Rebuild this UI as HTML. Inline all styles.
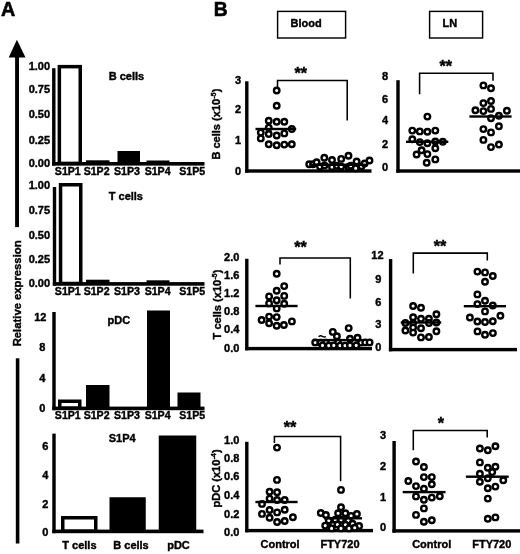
<!DOCTYPE html>
<html><head><meta charset="utf-8"><title>Figure</title>
<style>
html,body{margin:0;padding:0;background:#fff;}
svg{display:block;font-family:"Liberation Sans", sans-serif;font-weight:bold;fill:#000;}
text{stroke:#000;stroke-width:0.4px;}
</style></head><body>
<svg width="520" height="554" viewBox="0 0 520 554">
<defs><filter id="soft" x="0" y="0" width="520" height="554" filterUnits="userSpaceOnUse"><feGaussianBlur stdDeviation="0.4"/></filter></defs>
<rect x="0" y="0" width="520" height="554" fill="#fff"/>
<g filter="url(#soft)">
<text x="0.9" y="15.6" font-size="19.80" text-anchor="start" style="stroke-width:0.6px">A</text>
<polygon points="16.9,39.8 8.7,57.4 25.5,57.4"/>
<rect x="15.1" y="57" width="3.90" height="170.10" fill="#000"/>
<text transform="translate(20.8,346.3) rotate(-90)" font-size="11.27">Relative expression</text>
<rect x="15.8" y="358.3" width="3.60" height="185.20" fill="#000"/>
<rect x="52.1" y="68.2" width="3.40" height="97.40" fill="#000"/>
<rect x="52.1" y="162.0" width="152.40" height="3.60" fill="#000"/>
<text x="50.1" y="69.9" font-size="11.00" text-anchor="end" >1.00</text>
<text x="50.1" y="93.4" font-size="11.00" text-anchor="end" >0.75</text>
<text x="50.1" y="118.10000000000001" font-size="11.00" text-anchor="end" >0.50</text>
<text x="50.1" y="143.6" font-size="11.00" text-anchor="end" >0.25</text>
<text x="50.1" y="167.3" font-size="11.00" text-anchor="end" >0.00</text>
<text x="67.8" y="174.9" font-size="10.60" text-anchor="middle" >S1P1</text>
<text x="96.6" y="174.9" font-size="10.60" text-anchor="middle" >S1P2</text>
<text x="126.9" y="174.9" font-size="10.60" text-anchor="middle" >S1P3</text>
<text x="157.6" y="174.9" font-size="10.60" text-anchor="middle" >S1P4</text>
<text x="192.2" y="174.9" font-size="10.60" text-anchor="middle" >S1P5</text>
<rect x="59.35" y="66.65" width="20.90" height="96.75" fill="#fff" stroke="#000" stroke-width="3.5"/>
<rect x="86" y="160.3" width="23.50" height="3.10" fill="#000"/>
<rect x="117.5" y="151" width="22.50" height="12.40" fill="#000"/>
<rect x="146.5" y="160.5" width="23.00" height="2.90" fill="#000"/>
<text x="108.75" y="80" font-size="11.00" text-anchor="start" >B cells</text>
<rect x="52.8" y="187" width="3.40" height="98.70" fill="#000"/>
<rect x="52.8" y="282.1" width="151.70" height="3.60" fill="#000"/>
<text x="50.1" y="189.4" font-size="11.00" text-anchor="end" >1.00</text>
<text x="50.1" y="213.5" font-size="11.00" text-anchor="end" >0.75</text>
<text x="50.1" y="238.9" font-size="11.00" text-anchor="end" >0.50</text>
<text x="50.1" y="262.7" font-size="11.00" text-anchor="end" >0.25</text>
<text x="50.1" y="286.9" font-size="11.00" text-anchor="end" >0.00</text>
<text x="67.8" y="294.6" font-size="10.60" text-anchor="middle" >S1P1</text>
<text x="96.6" y="294.6" font-size="10.60" text-anchor="middle" >S1P2</text>
<text x="126.9" y="294.6" font-size="10.60" text-anchor="middle" >S1P3</text>
<text x="157.6" y="294.6" font-size="10.60" text-anchor="middle" >S1P4</text>
<text x="192.2" y="294.6" font-size="10.60" text-anchor="middle" >S1P5</text>
<rect x="60.55" y="184.75" width="20.20" height="98.75" fill="#fff" stroke="#000" stroke-width="3.5"/>
<rect x="86" y="279.7" width="23.50" height="3.80" fill="#000"/>
<rect x="146.5" y="280.3" width="23.00" height="3.20" fill="#000"/>
<text x="108.75" y="199.6" font-size="11.00" text-anchor="start" >T cells</text>
<rect x="52.3" y="312" width="3.40" height="98.20" fill="#000"/>
<rect x="52.3" y="406.6" width="152.20" height="3.60" fill="#000"/>
<text x="46.4" y="320.5" font-size="11.00" text-anchor="end" >12</text>
<text x="45.4" y="350.5" font-size="11.00" text-anchor="end" >8</text>
<text x="45.4" y="381.79999999999995" font-size="11.00" text-anchor="end" >4</text>
<text x="45.4" y="412.0" font-size="11.00" text-anchor="end" >0</text>
<text x="67.8" y="419.0" font-size="10.60" text-anchor="middle" >S1P1</text>
<text x="96.6" y="419.0" font-size="10.60" text-anchor="middle" >S1P2</text>
<text x="126.9" y="419.0" font-size="10.60" text-anchor="middle" >S1P3</text>
<text x="157.6" y="419.0" font-size="10.60" text-anchor="middle" >S1P4</text>
<text x="192.2" y="419.0" font-size="10.60" text-anchor="middle" >S1P5</text>
<rect x="59.75" y="401.25" width="20.00" height="6.75" fill="#fff" stroke="#000" stroke-width="3.5"/>
<rect x="86" y="385" width="23.50" height="23.00" fill="#000"/>
<rect x="147" y="310.5" width="23.00" height="97.50" fill="#000"/>
<rect x="177.5" y="392.5" width="23.00" height="15.50" fill="#000"/>
<text x="107.6" y="323.8" font-size="11.00" text-anchor="start" >pDC</text>
<rect x="52.3" y="433.6" width="3.40" height="99.60" fill="#000"/>
<rect x="52.3" y="529.6" width="151.20" height="3.60" fill="#000"/>
<text x="48.3" y="449.9" font-size="11.00" text-anchor="end" >6</text>
<text x="48.3" y="479.4" font-size="11.00" text-anchor="end" >4</text>
<text x="48.3" y="507.9" font-size="11.00" text-anchor="end" >2</text>
<text x="48.3" y="535.9" font-size="11.00" text-anchor="end" >0</text>
<text x="79.4" y="549.3" font-size="11.00" text-anchor="middle" >T cells</text>
<text x="131" y="549.3" font-size="11.00" text-anchor="middle" >B cells</text>
<text x="178.5" y="549.3" font-size="11.00" text-anchor="middle" >pDC</text>
<rect x="62.75" y="517.75" width="33.00" height="13.25" fill="#fff" stroke="#000" stroke-width="3.5"/>
<rect x="109.5" y="497.25" width="36.25" height="33.75" fill="#000"/>
<rect x="158.75" y="435.5" width="37.50" height="95.50" fill="#000"/>
<text x="108.75" y="442.3" font-size="11.00" text-anchor="start" >S1P4</text>
<text x="213.7" y="15.6" font-size="19.30" text-anchor="start" style="stroke-width:0.6px">B</text>
<rect x="277.6" y="11.4" width="68" height="26.6" fill="#fff" stroke="#000" stroke-width="1.45"/>
<text x="290.5" y="27" font-size="11.00" text-anchor="start" >Blood</text>
<rect x="429.6" y="11.4" width="53" height="26.6" fill="#fff" stroke="#000" stroke-width="1.45"/>
<text x="442.5" y="27" font-size="11.00" text-anchor="start" >LN</text>
<rect x="245.10000000000002" y="81.3" width="3.40" height="91.40" fill="#000"/>
<rect x="245.10000000000002" y="169.3" width="126.40" height="3.40" fill="#000"/>
<text x="241" y="83.7" font-size="11.00" text-anchor="end" >3</text>
<text x="241" y="113.4" font-size="11.00" text-anchor="end" >2</text>
<text x="241" y="144.0" font-size="11.00" text-anchor="end" >1</text>
<text x="241" y="175.3" font-size="11.00" text-anchor="end" >0</text>
<polyline points="277.5,87 277.5,80.5 347.2,80.5 347.2,120.6" fill="none" stroke="#000" stroke-width="1.55"/>
<text x="300.8" y="79" font-size="16.20" text-anchor="middle" >**</text>
<circle cx="276.7" cy="90.5" r="2.75" fill="#fff" stroke="#000" stroke-width="2.4"/>
<circle cx="276.7" cy="105.7" r="2.75" fill="#fff" stroke="#000" stroke-width="2.4"/>
<circle cx="268.75" cy="120.8" r="2.75" fill="#fff" stroke="#000" stroke-width="2.4"/>
<circle cx="276.7" cy="121.8" r="2.75" fill="#fff" stroke="#000" stroke-width="2.4"/>
<circle cx="284.3" cy="121.8" r="2.75" fill="#fff" stroke="#000" stroke-width="2.4"/>
<circle cx="291.8" cy="129" r="2.75" fill="#fff" stroke="#000" stroke-width="2.4"/>
<circle cx="268.75" cy="127.6" r="2.75" fill="#fff" stroke="#000" stroke-width="2.4"/>
<circle cx="260.8" cy="132.6" r="2.75" fill="#fff" stroke="#000" stroke-width="2.4"/>
<circle cx="268.75" cy="134" r="2.75" fill="#fff" stroke="#000" stroke-width="2.4"/>
<circle cx="276.7" cy="135.5" r="2.75" fill="#fff" stroke="#000" stroke-width="2.4"/>
<circle cx="284.3" cy="133.4" r="2.75" fill="#fff" stroke="#000" stroke-width="2.4"/>
<circle cx="260.8" cy="138.4" r="2.75" fill="#fff" stroke="#000" stroke-width="2.4"/>
<circle cx="268.75" cy="144.2" r="2.75" fill="#fff" stroke="#000" stroke-width="2.4"/>
<circle cx="276.7" cy="145.2" r="2.75" fill="#fff" stroke="#000" stroke-width="2.4"/>
<circle cx="284.3" cy="144.6" r="2.75" fill="#fff" stroke="#000" stroke-width="2.4"/>
<circle cx="291.8" cy="144.2" r="2.75" fill="#fff" stroke="#000" stroke-width="2.4"/>
<rect x="255.5" y="127.8" width="40.70" height="2.40" fill="#000"/>
<circle cx="309.2" cy="164.2" r="2.75" fill="#fff" stroke="#000" stroke-width="2.4"/>
<circle cx="313" cy="164.2" r="2.75" fill="#fff" stroke="#000" stroke-width="2.4"/>
<circle cx="316.6" cy="162.3" r="2.75" fill="#fff" stroke="#000" stroke-width="2.4"/>
<circle cx="320" cy="166.6" r="2.75" fill="#fff" stroke="#000" stroke-width="2.4"/>
<circle cx="324.3" cy="157.7" r="2.75" fill="#fff" stroke="#000" stroke-width="2.4"/>
<circle cx="324.5" cy="165.5" r="2.75" fill="#fff" stroke="#000" stroke-width="2.4"/>
<circle cx="332" cy="160" r="2.75" fill="#fff" stroke="#000" stroke-width="2.4"/>
<circle cx="332" cy="167" r="2.75" fill="#fff" stroke="#000" stroke-width="2.4"/>
<circle cx="337" cy="165.7" r="2.75" fill="#fff" stroke="#000" stroke-width="2.4"/>
<circle cx="341.2" cy="158.9" r="2.75" fill="#fff" stroke="#000" stroke-width="2.4"/>
<circle cx="341.2" cy="166.6" r="2.75" fill="#fff" stroke="#000" stroke-width="2.4"/>
<circle cx="348.5" cy="155.8" r="2.75" fill="#fff" stroke="#000" stroke-width="2.4"/>
<circle cx="348.5" cy="167" r="2.75" fill="#fff" stroke="#000" stroke-width="2.4"/>
<circle cx="350.8" cy="165.7" r="2.75" fill="#fff" stroke="#000" stroke-width="2.4"/>
<circle cx="356.6" cy="161.5" r="2.75" fill="#fff" stroke="#000" stroke-width="2.4"/>
<circle cx="355.7" cy="168.2" r="2.75" fill="#fff" stroke="#000" stroke-width="2.4"/>
<circle cx="361.5" cy="166.2" r="2.75" fill="#fff" stroke="#000" stroke-width="2.4"/>
<circle cx="364.6" cy="163.5" r="2.75" fill="#fff" stroke="#000" stroke-width="2.4"/>
<circle cx="369.5" cy="160.5" r="2.75" fill="#fff" stroke="#000" stroke-width="2.4"/>
<rect x="310.5" y="163.60000000000002" width="56.00" height="2.40" fill="#000"/>
<text transform="translate(220,159.6) rotate(-90)" font-size="11.05">B cells (x10<tspan font-size="6.6" dy="-4.4" dx="0.3">-5</tspan><tspan dy="4.4" dx="0.4">)</tspan></text>
<rect x="396.3" y="80.2" width="3.40" height="92.50" fill="#000"/>
<rect x="396.3" y="169.3" width="123.70" height="3.40" fill="#000"/>
<text x="388" y="80.4" font-size="11.00" text-anchor="end" >8</text>
<text x="388" y="102.80000000000001" font-size="11.00" text-anchor="end" >6</text>
<text x="388" y="124.30000000000001" font-size="11.00" text-anchor="end" >4</text>
<text x="388" y="148.1" font-size="11.00" text-anchor="end" >2</text>
<text x="388" y="171.0" font-size="11.00" text-anchor="end" >0</text>
<polyline points="419.6,94.2 419.6,73.2 493,73.2 493,80.8" fill="none" stroke="#000" stroke-width="1.55"/>
<text x="445.7" y="71.5" font-size="16.20" text-anchor="middle" >**</text>
<circle cx="427.4" cy="116.6" r="2.75" fill="#fff" stroke="#000" stroke-width="2.4"/>
<circle cx="412.3" cy="130.6" r="2.75" fill="#fff" stroke="#000" stroke-width="2.4"/>
<circle cx="419.8" cy="131.4" r="2.75" fill="#fff" stroke="#000" stroke-width="2.4"/>
<circle cx="427.4" cy="131.7" r="2.75" fill="#fff" stroke="#000" stroke-width="2.4"/>
<circle cx="435.3" cy="130.6" r="2.75" fill="#fff" stroke="#000" stroke-width="2.4"/>
<circle cx="412.3" cy="139.2" r="2.75" fill="#fff" stroke="#000" stroke-width="2.4"/>
<circle cx="419.8" cy="142.1" r="2.75" fill="#fff" stroke="#000" stroke-width="2.4"/>
<circle cx="427.4" cy="143.3" r="2.75" fill="#fff" stroke="#000" stroke-width="2.4"/>
<circle cx="435.3" cy="141.5" r="2.75" fill="#fff" stroke="#000" stroke-width="2.4"/>
<circle cx="442.8" cy="141.8" r="2.75" fill="#fff" stroke="#000" stroke-width="2.4"/>
<circle cx="435.3" cy="148.3" r="2.75" fill="#fff" stroke="#000" stroke-width="2.4"/>
<circle cx="421.6" cy="150.2" r="2.75" fill="#fff" stroke="#000" stroke-width="2.4"/>
<circle cx="416.6" cy="154.5" r="2.75" fill="#fff" stroke="#000" stroke-width="2.4"/>
<circle cx="427.4" cy="154.1" r="2.75" fill="#fff" stroke="#000" stroke-width="2.4"/>
<circle cx="426.7" cy="162.7" r="2.75" fill="#fff" stroke="#000" stroke-width="2.4"/>
<circle cx="435.3" cy="159.4" r="2.75" fill="#fff" stroke="#000" stroke-width="2.4"/>
<rect x="406" y="140.60000000000002" width="42.30" height="2.40" fill="#000"/>
<circle cx="483.4" cy="85.4" r="2.75" fill="#fff" stroke="#000" stroke-width="2.4"/>
<circle cx="491" cy="88.3" r="2.75" fill="#fff" stroke="#000" stroke-width="2.4"/>
<circle cx="491" cy="101" r="2.75" fill="#fff" stroke="#000" stroke-width="2.4"/>
<circle cx="483.4" cy="103.1" r="2.75" fill="#fff" stroke="#000" stroke-width="2.4"/>
<circle cx="491" cy="108.9" r="2.75" fill="#fff" stroke="#000" stroke-width="2.4"/>
<circle cx="483.4" cy="111.1" r="2.75" fill="#fff" stroke="#000" stroke-width="2.4"/>
<circle cx="475.4" cy="110.3" r="2.75" fill="#fff" stroke="#000" stroke-width="2.4"/>
<circle cx="506.9" cy="110.8" r="2.75" fill="#fff" stroke="#000" stroke-width="2.4"/>
<circle cx="498.9" cy="115.7" r="2.75" fill="#fff" stroke="#000" stroke-width="2.4"/>
<circle cx="491" cy="118.3" r="2.75" fill="#fff" stroke="#000" stroke-width="2.4"/>
<circle cx="498.9" cy="126.2" r="2.75" fill="#fff" stroke="#000" stroke-width="2.4"/>
<circle cx="483.4" cy="129.1" r="2.75" fill="#fff" stroke="#000" stroke-width="2.4"/>
<circle cx="491" cy="132.4" r="2.75" fill="#fff" stroke="#000" stroke-width="2.4"/>
<circle cx="483.4" cy="139.9" r="2.75" fill="#fff" stroke="#000" stroke-width="2.4"/>
<circle cx="498.9" cy="144.5" r="2.75" fill="#fff" stroke="#000" stroke-width="2.4"/>
<circle cx="491" cy="147.1" r="2.75" fill="#fff" stroke="#000" stroke-width="2.4"/>
<rect x="469.4" y="115.3" width="42.20" height="2.40" fill="#000"/>
<rect x="245.10000000000002" y="258.8" width="3.40" height="91.50" fill="#000"/>
<rect x="245.10000000000002" y="346.90000000000003" width="126.90" height="3.40" fill="#000"/>
<text x="239.4" y="260.59999999999997" font-size="11.00" text-anchor="end" >2.0</text>
<text x="239.4" y="278.59999999999997" font-size="11.00" text-anchor="end" >1.6</text>
<text x="239.4" y="296.59999999999997" font-size="11.00" text-anchor="end" >1.2</text>
<text x="239.4" y="315.0" font-size="11.00" text-anchor="end" >0.8</text>
<text x="239.4" y="332.9" font-size="11.00" text-anchor="end" >0.4</text>
<text x="239.4" y="351.5" font-size="11.00" text-anchor="end" >0.0</text>
<polyline points="280,264.5 280,258 350.3,258 350.3,298.4" fill="none" stroke="#000" stroke-width="1.55"/>
<text x="300.5" y="253" font-size="16.20" text-anchor="middle" >**</text>
<circle cx="276.7" cy="273.8" r="2.75" fill="#fff" stroke="#000" stroke-width="2.4"/>
<circle cx="284.2" cy="286.1" r="2.75" fill="#fff" stroke="#000" stroke-width="2.4"/>
<circle cx="276.7" cy="290.7" r="2.75" fill="#fff" stroke="#000" stroke-width="2.4"/>
<circle cx="269.1" cy="296.4" r="2.75" fill="#fff" stroke="#000" stroke-width="2.4"/>
<circle cx="284.2" cy="295.9" r="2.75" fill="#fff" stroke="#000" stroke-width="2.4"/>
<circle cx="276.7" cy="300.2" r="2.75" fill="#fff" stroke="#000" stroke-width="2.4"/>
<circle cx="269.1" cy="303.4" r="2.75" fill="#fff" stroke="#000" stroke-width="2.4"/>
<circle cx="284.2" cy="303.7" r="2.75" fill="#fff" stroke="#000" stroke-width="2.4"/>
<circle cx="276.7" cy="308.4" r="2.75" fill="#fff" stroke="#000" stroke-width="2.4"/>
<circle cx="269.1" cy="316.6" r="2.75" fill="#fff" stroke="#000" stroke-width="2.4"/>
<circle cx="276.7" cy="317.1" r="2.75" fill="#fff" stroke="#000" stroke-width="2.4"/>
<circle cx="261.6" cy="320" r="2.75" fill="#fff" stroke="#000" stroke-width="2.4"/>
<circle cx="291.9" cy="321.4" r="2.75" fill="#fff" stroke="#000" stroke-width="2.4"/>
<circle cx="269.1" cy="323.3" r="2.75" fill="#fff" stroke="#000" stroke-width="2.4"/>
<circle cx="276.7" cy="325.7" r="2.75" fill="#fff" stroke="#000" stroke-width="2.4"/>
<circle cx="283.9" cy="325" r="2.75" fill="#fff" stroke="#000" stroke-width="2.4"/>
<rect x="255.4" y="304.8" width="42.20" height="2.40" fill="#000"/>
<circle cx="348.7" cy="328.1" r="2.75" fill="#fff" stroke="#000" stroke-width="2.4"/>
<circle cx="332.8" cy="331.9" r="2.75" fill="#fff" stroke="#000" stroke-width="2.4"/>
<circle cx="336.9" cy="336.2" r="2.75" fill="#fff" stroke="#000" stroke-width="2.4"/>
<circle cx="350" cy="338.8" r="2.75" fill="#fff" stroke="#000" stroke-width="2.4"/>
<circle cx="357.5" cy="337.8" r="2.75" fill="#fff" stroke="#000" stroke-width="2.4"/>
<circle cx="315.2" cy="342.4" r="2.75" fill="#fff" stroke="#000" stroke-width="2.4"/>
<circle cx="320.5" cy="342.6" r="2.75" fill="#fff" stroke="#000" stroke-width="2.4"/>
<circle cx="326" cy="342.6" r="2.75" fill="#fff" stroke="#000" stroke-width="2.4"/>
<circle cx="338" cy="342.4" r="2.75" fill="#fff" stroke="#000" stroke-width="2.4"/>
<circle cx="361" cy="342.6" r="2.75" fill="#fff" stroke="#000" stroke-width="2.4"/>
<circle cx="365.2" cy="342.4" r="2.75" fill="#fff" stroke="#000" stroke-width="2.4"/>
<circle cx="369.6" cy="342.4" r="2.75" fill="#fff" stroke="#000" stroke-width="2.4"/>
<circle cx="322.5" cy="345.4" r="2.75" fill="#fff" stroke="#000" stroke-width="2.4"/>
<circle cx="328.7" cy="345.6" r="2.75" fill="#fff" stroke="#000" stroke-width="2.4"/>
<circle cx="333.8" cy="345.4" r="2.75" fill="#fff" stroke="#000" stroke-width="2.4"/>
<circle cx="340" cy="345.6" r="2.75" fill="#fff" stroke="#000" stroke-width="2.4"/>
<circle cx="345" cy="345.6" r="2.75" fill="#fff" stroke="#000" stroke-width="2.4"/>
<circle cx="350" cy="345.4" r="2.75" fill="#fff" stroke="#000" stroke-width="2.4"/>
<circle cx="356.2" cy="345.4" r="2.75" fill="#fff" stroke="#000" stroke-width="2.4"/>
<rect x="313" y="338.90000000000003" width="48.50" height="2.40" fill="#000"/>
<text transform="translate(221.3,339.4) rotate(-90)" font-size="11.05">T cells (x10<tspan font-size="6.6" dy="-4.4" dx="0.3">-5</tspan><tspan dy="4.4" dx="0.4">)</tspan></text>
<rect x="388.90000000000003" y="259" width="3.40" height="92.30" fill="#000"/>
<rect x="388.90000000000003" y="347.90000000000003" width="128.10" height="3.40" fill="#000"/>
<text x="383.6" y="259.3" font-size="11.00" text-anchor="end" >12</text>
<text x="381.4" y="282.5" font-size="11.00" text-anchor="end" >9</text>
<text x="381.4" y="305.59999999999997" font-size="11.00" text-anchor="end" >6</text>
<text x="381.4" y="328.09999999999997" font-size="11.00" text-anchor="end" >3</text>
<text x="381.4" y="350.79999999999995" font-size="11.00" text-anchor="end" >0</text>
<polyline points="413.3,273.4 413.3,253.1 487.3,253.1 487.3,260.4" fill="none" stroke="#000" stroke-width="1.55"/>
<text x="440.1" y="251.8" font-size="16.20" text-anchor="middle" >**</text>
<circle cx="413.1" cy="306" r="2.75" fill="#fff" stroke="#000" stroke-width="2.4"/>
<circle cx="421" cy="307.7" r="2.75" fill="#fff" stroke="#000" stroke-width="2.4"/>
<circle cx="436.4" cy="314.3" r="2.75" fill="#fff" stroke="#000" stroke-width="2.4"/>
<circle cx="413.1" cy="317.2" r="2.75" fill="#fff" stroke="#000" stroke-width="2.4"/>
<circle cx="421" cy="318.7" r="2.75" fill="#fff" stroke="#000" stroke-width="2.4"/>
<circle cx="428.9" cy="318.7" r="2.75" fill="#fff" stroke="#000" stroke-width="2.4"/>
<circle cx="405.4" cy="323" r="2.75" fill="#fff" stroke="#000" stroke-width="2.4"/>
<circle cx="413.1" cy="323.3" r="2.75" fill="#fff" stroke="#000" stroke-width="2.4"/>
<circle cx="429" cy="323" r="2.75" fill="#fff" stroke="#000" stroke-width="2.4"/>
<circle cx="436.4" cy="322.5" r="2.75" fill="#fff" stroke="#000" stroke-width="2.4"/>
<circle cx="413.1" cy="327.6" r="2.75" fill="#fff" stroke="#000" stroke-width="2.4"/>
<circle cx="421" cy="328.3" r="2.75" fill="#fff" stroke="#000" stroke-width="2.4"/>
<circle cx="405.4" cy="330.5" r="2.75" fill="#fff" stroke="#000" stroke-width="2.4"/>
<circle cx="413.1" cy="332.6" r="2.75" fill="#fff" stroke="#000" stroke-width="2.4"/>
<circle cx="436.4" cy="331.2" r="2.75" fill="#fff" stroke="#000" stroke-width="2.4"/>
<circle cx="421" cy="337.4" r="2.75" fill="#fff" stroke="#000" stroke-width="2.4"/>
<circle cx="428.9" cy="337" r="2.75" fill="#fff" stroke="#000" stroke-width="2.4"/>
<rect x="400.8" y="321.3" width="40.40" height="2.40" fill="#000"/>
<circle cx="477.4" cy="271.6" r="2.75" fill="#fff" stroke="#000" stroke-width="2.4"/>
<circle cx="485" cy="272.4" r="2.75" fill="#fff" stroke="#000" stroke-width="2.4"/>
<circle cx="492.8" cy="276" r="2.75" fill="#fff" stroke="#000" stroke-width="2.4"/>
<circle cx="485" cy="281.7" r="2.75" fill="#fff" stroke="#000" stroke-width="2.4"/>
<circle cx="477.4" cy="294.4" r="2.75" fill="#fff" stroke="#000" stroke-width="2.4"/>
<circle cx="485" cy="300.8" r="2.75" fill="#fff" stroke="#000" stroke-width="2.4"/>
<circle cx="477.4" cy="304.1" r="2.75" fill="#fff" stroke="#000" stroke-width="2.4"/>
<circle cx="492.8" cy="305.5" r="2.75" fill="#fff" stroke="#000" stroke-width="2.4"/>
<circle cx="485" cy="311.4" r="2.75" fill="#fff" stroke="#000" stroke-width="2.4"/>
<circle cx="500.4" cy="315.7" r="2.75" fill="#fff" stroke="#000" stroke-width="2.4"/>
<circle cx="469.9" cy="317.5" r="2.75" fill="#fff" stroke="#000" stroke-width="2.4"/>
<circle cx="477.4" cy="321.5" r="2.75" fill="#fff" stroke="#000" stroke-width="2.4"/>
<circle cx="485" cy="322" r="2.75" fill="#fff" stroke="#000" stroke-width="2.4"/>
<circle cx="492.8" cy="321.3" r="2.75" fill="#fff" stroke="#000" stroke-width="2.4"/>
<circle cx="477.5" cy="331.4" r="2.75" fill="#fff" stroke="#000" stroke-width="2.4"/>
<circle cx="485" cy="334.8" r="2.75" fill="#fff" stroke="#000" stroke-width="2.4"/>
<circle cx="492.9" cy="333.1" r="2.75" fill="#fff" stroke="#000" stroke-width="2.4"/>
<rect x="463.8" y="305.0" width="42.20" height="2.40" fill="#000"/>
<rect x="245.10000000000002" y="441.8" width="3.40" height="90.50" fill="#000"/>
<rect x="245.10000000000002" y="528.9" width="127.90" height="3.40" fill="#000"/>
<text x="239.4" y="443.9" font-size="11.00" text-anchor="end" >1.0</text>
<text x="239.4" y="461.5" font-size="11.00" text-anchor="end" >0.8</text>
<text x="239.4" y="480.29999999999995" font-size="11.00" text-anchor="end" >0.6</text>
<text x="239.4" y="499.0" font-size="11.00" text-anchor="end" >0.4</text>
<text x="239.4" y="517.5" font-size="11.00" text-anchor="end" >0.2</text>
<text x="239.4" y="535.8" font-size="11.00" text-anchor="end" >0.0</text>
<polyline points="274.4,443 274.4,436.4 340.6,436.4 340.6,481.3" fill="none" stroke="#000" stroke-width="1.55"/>
<text x="290" y="433.1" font-size="16.20" text-anchor="middle" >**</text>
<circle cx="277" cy="447.6" r="2.75" fill="#fff" stroke="#000" stroke-width="2.4"/>
<circle cx="277" cy="479.9" r="2.75" fill="#fff" stroke="#000" stroke-width="2.4"/>
<circle cx="269.6" cy="491.8" r="2.75" fill="#fff" stroke="#000" stroke-width="2.4"/>
<circle cx="277.1" cy="492.3" r="2.75" fill="#fff" stroke="#000" stroke-width="2.4"/>
<circle cx="269.6" cy="498.6" r="2.75" fill="#fff" stroke="#000" stroke-width="2.4"/>
<circle cx="277.1" cy="500" r="2.75" fill="#fff" stroke="#000" stroke-width="2.4"/>
<circle cx="284.7" cy="500" r="2.75" fill="#fff" stroke="#000" stroke-width="2.4"/>
<circle cx="262" cy="503.9" r="2.75" fill="#fff" stroke="#000" stroke-width="2.4"/>
<circle cx="269.6" cy="510" r="2.75" fill="#fff" stroke="#000" stroke-width="2.4"/>
<circle cx="284.7" cy="509.8" r="2.75" fill="#fff" stroke="#000" stroke-width="2.4"/>
<circle cx="277.1" cy="512.4" r="2.75" fill="#fff" stroke="#000" stroke-width="2.4"/>
<circle cx="262" cy="513.9" r="2.75" fill="#fff" stroke="#000" stroke-width="2.4"/>
<circle cx="269.6" cy="517.7" r="2.75" fill="#fff" stroke="#000" stroke-width="2.4"/>
<circle cx="292.9" cy="517.2" r="2.75" fill="#fff" stroke="#000" stroke-width="2.4"/>
<circle cx="277.1" cy="522" r="2.75" fill="#fff" stroke="#000" stroke-width="2.4"/>
<circle cx="284.7" cy="521" r="2.75" fill="#fff" stroke="#000" stroke-width="2.4"/>
<rect x="255.4" y="500.8" width="42.20" height="2.40" fill="#000"/>
<circle cx="341" cy="489.9" r="2.75" fill="#fff" stroke="#000" stroke-width="2.4"/>
<circle cx="341" cy="507.2" r="2.75" fill="#fff" stroke="#000" stroke-width="2.4"/>
<circle cx="320.8" cy="513" r="2.75" fill="#fff" stroke="#000" stroke-width="2.4"/>
<circle cx="325.9" cy="515" r="2.75" fill="#fff" stroke="#000" stroke-width="2.4"/>
<circle cx="338.1" cy="513.3" r="2.75" fill="#fff" stroke="#000" stroke-width="2.4"/>
<circle cx="345.4" cy="513.3" r="2.75" fill="#fff" stroke="#000" stroke-width="2.4"/>
<circle cx="351.1" cy="515.9" r="2.75" fill="#fff" stroke="#000" stroke-width="2.4"/>
<circle cx="356.9" cy="514" r="2.75" fill="#fff" stroke="#000" stroke-width="2.4"/>
<circle cx="328.8" cy="520.5" r="2.75" fill="#fff" stroke="#000" stroke-width="2.4"/>
<circle cx="335.3" cy="519.8" r="2.75" fill="#fff" stroke="#000" stroke-width="2.4"/>
<circle cx="341" cy="519.8" r="2.75" fill="#fff" stroke="#000" stroke-width="2.4"/>
<circle cx="348.2" cy="520.5" r="2.75" fill="#fff" stroke="#000" stroke-width="2.4"/>
<circle cx="325.2" cy="525.6" r="2.75" fill="#fff" stroke="#000" stroke-width="2.4"/>
<circle cx="333.1" cy="524.8" r="2.75" fill="#fff" stroke="#000" stroke-width="2.4"/>
<circle cx="337.4" cy="524.5" r="2.75" fill="#fff" stroke="#000" stroke-width="2.4"/>
<circle cx="345.4" cy="524.8" r="2.75" fill="#fff" stroke="#000" stroke-width="2.4"/>
<circle cx="352.6" cy="523.7" r="2.75" fill="#fff" stroke="#000" stroke-width="2.4"/>
<circle cx="359.1" cy="526" r="2.75" fill="#fff" stroke="#000" stroke-width="2.4"/>
<circle cx="331.6" cy="528.4" r="2.75" fill="#fff" stroke="#000" stroke-width="2.4"/>
<circle cx="341" cy="528.4" r="2.75" fill="#fff" stroke="#000" stroke-width="2.4"/>
<circle cx="349" cy="528.4" r="2.75" fill="#fff" stroke="#000" stroke-width="2.4"/>
<circle cx="354.7" cy="527.7" r="2.75" fill="#fff" stroke="#000" stroke-width="2.4"/>
<rect x="324" y="517.0999999999999" width="38.00" height="2.40" fill="#000"/>
<text transform="translate(220.4,507.5) rotate(-90)" font-size="11.05">pDC (x10<tspan font-size="6.6" dy="-4.4" dx="0.3">-4</tspan><tspan dy="4.4" dx="0.4">)</tspan></text>
<rect x="392.40000000000003" y="441" width="3.40" height="91.60" fill="#000"/>
<rect x="392.40000000000003" y="529.1999999999999" width="127.60" height="3.40" fill="#000"/>
<text x="386" y="439.09999999999997" font-size="11.00" text-anchor="end" >3</text>
<text x="386" y="470.2" font-size="11.00" text-anchor="end" >2</text>
<text x="386" y="501.4" font-size="11.00" text-anchor="end" >1</text>
<text x="386" y="530.8" font-size="11.00" text-anchor="end" >0</text>
<polyline points="413.3,450.3 413.3,430.4 487.2,430.4 487.2,437.6" fill="none" stroke="#000" stroke-width="1.55"/>
<text x="440.9" y="429.2" font-size="16.20" text-anchor="middle" >*</text>
<circle cx="416" cy="461.5" r="2.75" fill="#fff" stroke="#000" stroke-width="2.4"/>
<circle cx="423.9" cy="467" r="2.75" fill="#fff" stroke="#000" stroke-width="2.4"/>
<circle cx="423.9" cy="477.1" r="2.75" fill="#fff" stroke="#000" stroke-width="2.4"/>
<circle cx="431.8" cy="477.1" r="2.75" fill="#fff" stroke="#000" stroke-width="2.4"/>
<circle cx="408.3" cy="481" r="2.75" fill="#fff" stroke="#000" stroke-width="2.4"/>
<circle cx="431.8" cy="484.3" r="2.75" fill="#fff" stroke="#000" stroke-width="2.4"/>
<circle cx="416" cy="486.1" r="2.75" fill="#fff" stroke="#000" stroke-width="2.4"/>
<circle cx="423.9" cy="488.7" r="2.75" fill="#fff" stroke="#000" stroke-width="2.4"/>
<circle cx="416" cy="496.4" r="2.75" fill="#fff" stroke="#000" stroke-width="2.4"/>
<circle cx="423.9" cy="499.8" r="2.75" fill="#fff" stroke="#000" stroke-width="2.4"/>
<circle cx="431.8" cy="497.6" r="2.75" fill="#fff" stroke="#000" stroke-width="2.4"/>
<circle cx="439.8" cy="496.2" r="2.75" fill="#fff" stroke="#000" stroke-width="2.4"/>
<circle cx="423.9" cy="508.4" r="2.75" fill="#fff" stroke="#000" stroke-width="2.4"/>
<circle cx="416" cy="514.9" r="2.75" fill="#fff" stroke="#000" stroke-width="2.4"/>
<circle cx="431.8" cy="520.2" r="2.75" fill="#fff" stroke="#000" stroke-width="2.4"/>
<circle cx="423.9" cy="521.8" r="2.75" fill="#fff" stroke="#000" stroke-width="2.4"/>
<rect x="402.7" y="490.90000000000003" width="42.80" height="2.40" fill="#000"/>
<circle cx="479.9" cy="448.5" r="2.75" fill="#fff" stroke="#000" stroke-width="2.4"/>
<circle cx="487.8" cy="450.2" r="2.75" fill="#fff" stroke="#000" stroke-width="2.4"/>
<circle cx="495.4" cy="446.3" r="2.75" fill="#fff" stroke="#000" stroke-width="2.4"/>
<circle cx="479.9" cy="462.4" r="2.75" fill="#fff" stroke="#000" stroke-width="2.4"/>
<circle cx="487.8" cy="467.7" r="2.75" fill="#fff" stroke="#000" stroke-width="2.4"/>
<circle cx="495.4" cy="466.7" r="2.75" fill="#fff" stroke="#000" stroke-width="2.4"/>
<circle cx="492.2" cy="472.1" r="2.75" fill="#fff" stroke="#000" stroke-width="2.4"/>
<circle cx="479.9" cy="473.7" r="2.75" fill="#fff" stroke="#000" stroke-width="2.4"/>
<circle cx="487.8" cy="478.3" r="2.75" fill="#fff" stroke="#000" stroke-width="2.4"/>
<circle cx="479.9" cy="481.7" r="2.75" fill="#fff" stroke="#000" stroke-width="2.4"/>
<circle cx="503.3" cy="480.3" r="2.75" fill="#fff" stroke="#000" stroke-width="2.4"/>
<circle cx="487.8" cy="488.2" r="2.75" fill="#fff" stroke="#000" stroke-width="2.4"/>
<circle cx="495.4" cy="486.6" r="2.75" fill="#fff" stroke="#000" stroke-width="2.4"/>
<circle cx="487.8" cy="498.6" r="2.75" fill="#fff" stroke="#000" stroke-width="2.4"/>
<circle cx="487.8" cy="518.8" r="2.75" fill="#fff" stroke="#000" stroke-width="2.4"/>
<circle cx="495.4" cy="517.4" r="2.75" fill="#fff" stroke="#000" stroke-width="2.4"/>
<rect x="465.9" y="475.5" width="42.80" height="2.40" fill="#000"/>
<path d="M318.6,336.8 q1.9,-1.7 3.7,-0.5 t3.7,0.3" fill="none" stroke="#000" stroke-width="1.5"/>
<text x="280.1" y="548.1" font-size="11.00" text-anchor="middle" >Control</text>
<text x="340" y="548.1" font-size="11.00" text-anchor="middle" >FTY720</text>
<text x="431.7" y="548.4" font-size="11.00" text-anchor="middle" >Control</text>
<text x="491.8" y="548.4" font-size="11.00" text-anchor="middle" >FTY720</text>
</g>
</svg>
</body></html>
